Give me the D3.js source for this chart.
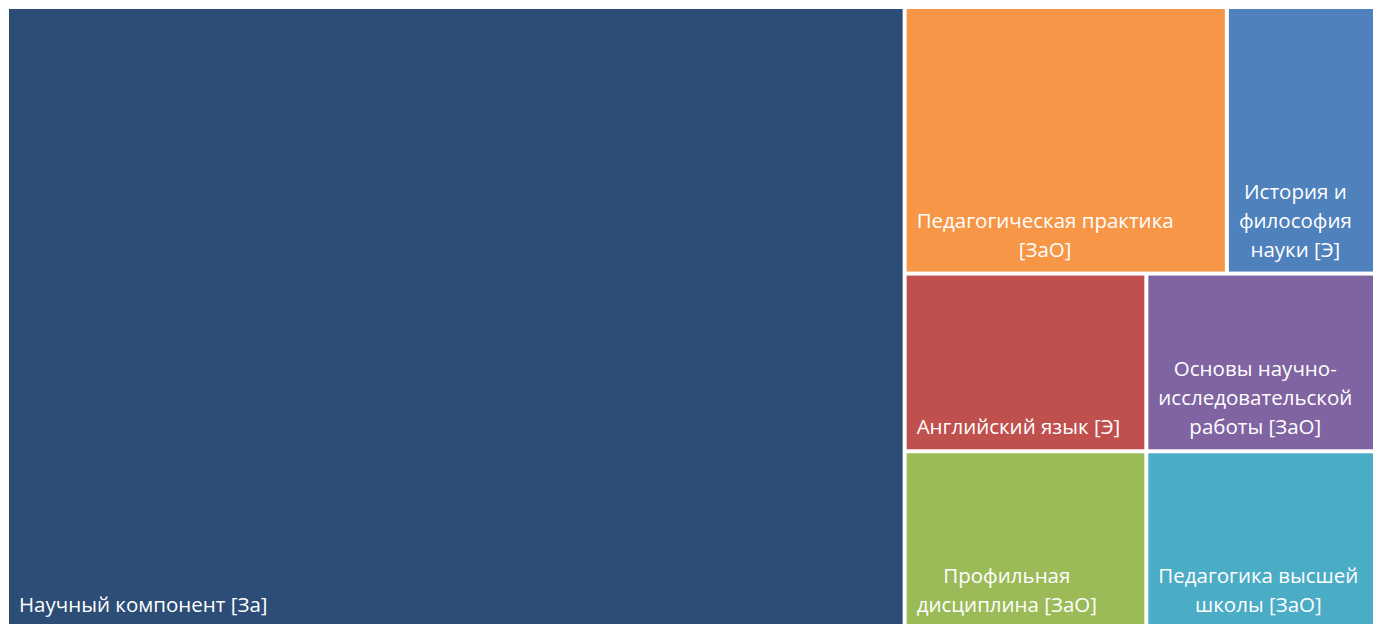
<!DOCTYPE html>
<html><head><meta charset="utf-8">
<script src="https://cdn.jsdelivr.net/npm/d3@7"></script>
<style>
html,body{margin:0;padding:0;background:#fff;overflow:hidden}
svg{display:block}
text{font-family:"Open Sans",Lato,sans-serif;fill:#fff}
</style></head><body>
<svg id="chart" width="1373" height="624"></svg>
<script>
// Disciplines (labels as shown, with line breaks) and their values
const names = [
  "Научный компонент [За]",
  "Педагогическая практика [ЗаО]",
  "История и философия науки [Э]",
  "Английский язык [Э]",
  "Основы научно-исследовательской работы [ЗаО]",
  "Профильная дисциплина [ЗаО]",
  "Педагогика высшей школы [ЗаО]"
];
const labelLines = [
  ["Научный компонент [За]"],
  ["Педагогическая практика", "[ЗаО]"],
  ["История и", "философия", "науки [Э]"],
  ["Английский язык [Э]"],
  ["Основы научно-", "исследовательской", "работы [ЗаО]"],
  ["Профильная", "дисциплина [ЗаО]"],
  ["Педагогика высшей", "школы [ЗаО]"]
];
const values = [39, 6, 3, 3, 3, 3, 3];
const colors = ["#2C4D75", "#F79646", "#4F81BD", "#C0504D", "#8064A2", "#9BBB59", "#4BACC6"];
// layout grouping (rows of the right-hand block)
const rows = [[1, 2], [3, 4], [5, 6]];

const leaf = i => ({name: names[i], value: values[i], idx: i});
const tree = {
  name: "root",
  children: [
    leaf(0),
    {name: "rest", children: rows.map((r, k) => ({name: "row" + k, children: r.map(leaf)}))}
  ]
};

const W = 1377, H = 618, X0 = 9, Y0 = 9;
const root = d3.hierarchy(tree).sum(d => d.value || 0);
d3.treemap().size([W, H]).paddingInner(4).tile(d3.treemapSliceDice).round(false)(root);

const svg = d3.select("#chart");
const g = svg.append("g").attr("transform", `translate(${X0},${Y0})`);
const leaves = root.leaves();

g.selectAll("rect").data(leaves).join("rect")
  .attr("x", d => d.x0).attr("y", d => d.y0)
  .attr("width", d => d.x1 - d.x0).attr("height", d => d.y1 - d.y0)
  .attr("fill", d => colors[d.data.idx]);

const FS = 20.5, LH = 29, PAD = 10, BOTTOM = 15;
const labels = g.selectAll("g.lab").data(leaves).join("g").attr("class", "lab");
labels.each(function(d) {
  const sel = d3.select(this);
  const lines = labelLines[d.data.idx];
  const ts = lines.map((t, i) => sel.append("text").attr("font-size", FS).text(t));
  const bw = d3.max(ts, t => t.node().getComputedTextLength());
  const n = lines.length;
  ts.forEach((t, i) => {
    t.attr("text-anchor", "middle")
     .attr("x", d.x0 + PAD + bw / 2)
     .attr("y", d.y1 - BOTTOM - (n - 1 - i) * LH);
  });
});
</script>
</body></html>
